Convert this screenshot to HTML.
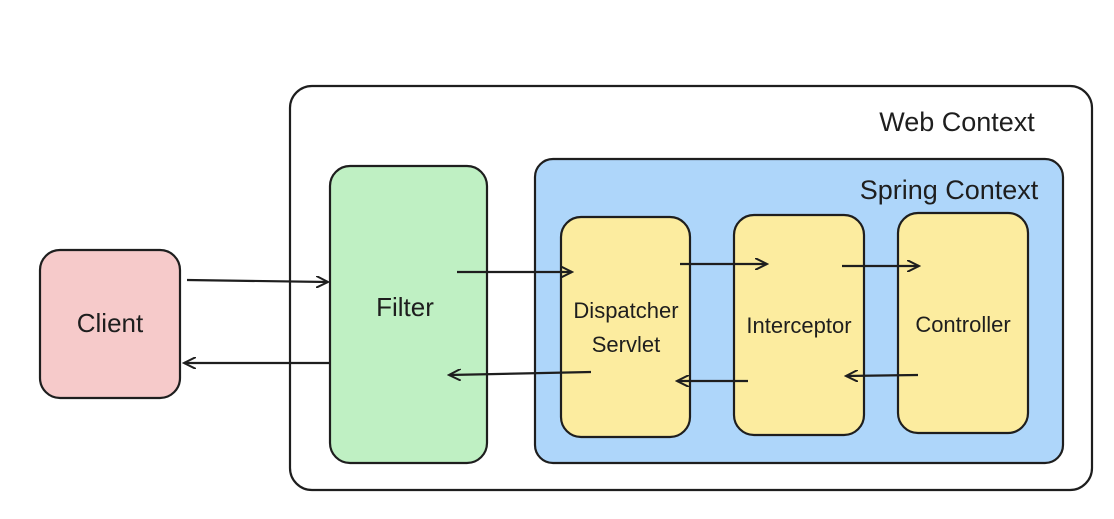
<!DOCTYPE html>
<html><head><meta charset="utf-8"><style>
html,body{margin:0;padding:0;background:#fff;}
body{width:1114px;height:514px;overflow:hidden;}
text{font-family:"Liberation Sans",sans-serif;fill:#1e1e1e;}
</style></head><body>
<svg width="1114" height="514" viewBox="0 0 1114 514" xmlns="http://www.w3.org/2000/svg">
<defs><marker id="a" markerWidth="14" markerHeight="12" refX="12" refY="6" orient="auto" markerUnits="userSpaceOnUse"><path d="M0,0 L12,6 L0,12" fill="none" stroke="#1e1e1e" stroke-width="2"/></marker></defs>
<g stroke="#1e1e1e" stroke-width="2.2">
<rect x="290" y="86" width="802" height="404" rx="22" fill="#fff"/>
<rect x="535" y="159" width="528" height="304" rx="18" fill="#aed6fa"/>
<rect x="40" y="250" width="140" height="148" rx="20" fill="#f6caca"/>
<rect x="330" y="166" width="157" height="297" rx="20" fill="#bff0c3"/>
<rect x="561" y="217" width="129" height="220" rx="20" fill="#fcec9f"/>
<rect x="734" y="215" width="130" height="220" rx="20" fill="#fcec9f"/>
<rect x="898" y="213" width="130" height="220" rx="20" fill="#fcec9f"/>
<g fill="none" marker-end="url(#a)">
<path d="M187,280 L328,282"/>
<path d="M330,363 L184,363"/>
<path d="M457,272 L572,272"/>
<path d="M680,264 L767,264"/>
<path d="M842,266 L919,266"/>
<path d="M918,375 L846,376"/>
<path d="M748,381 L677,381"/>
<path d="M591,372 L449,375"/>
</g></g>
<text x="957" y="131" font-size="27" text-anchor="middle">Web Context</text>
<text x="949" y="199" font-size="27" text-anchor="middle">Spring Context</text>
<text x="110" y="332" font-size="26" text-anchor="middle">Client</text>
<text x="405" y="316" font-size="26" text-anchor="middle">Filter</text>
<text x="626" y="318" font-size="22" text-anchor="middle">Dispatcher</text>
<text x="626" y="352" font-size="22" text-anchor="middle">Servlet</text>
<text x="799" y="333" font-size="22" text-anchor="middle">Interceptor</text>
<text x="963" y="332" font-size="22" text-anchor="middle">Controller</text>
</svg>
</body></html>
